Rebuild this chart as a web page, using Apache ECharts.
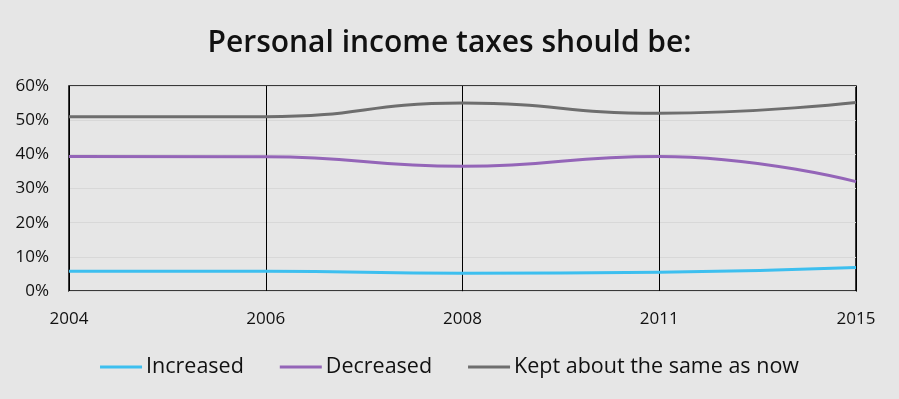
<!DOCTYPE html>
<html><head><meta charset="utf-8">
<script src="https://cdn.jsdelivr.net/npm/echarts@6/dist/echarts.min.js"></script>
<style>html,body{margin:0;padding:0;background:#e6e6e6;}#c{width:899px;height:399px;}</style>
</head><body><div id="c"></div>
<script>
const categories = ['2004','2006','2008','2011','2015'];
const increased = [5.8, 5.8, 5.2, 5.5, 6.9];
const decreased = [39.4, 39.3, 36.5, 39.4, 32.0];
const keptSame = [51.0, 51.0, 55.0, 52.0, 55.2];
const seriesNames = ['Increased','Decreased','Kept about the same as now'];
const colors = ['#3dbfef','#9465b8','#6e6e6e'];
const FONT = 'Open Sans';

const chart = echarts.init(document.getElementById('c'));
const mk = (name, data, color) => ({
  name, type:'line', data, smooth:0.5, symbol:'none',
  lineStyle:{color, width:3}, itemStyle:{color}
});
chart.setOption({
  backgroundColor:'#e6e6e6',
  animation:false,
  title:{text:'Personal income taxes should be:', left:'center', top:23,
    textStyle:{fontFamily:FONT, fontSize:30, fontWeight:600, color:'#111'}},
  legend:{bottom:16, left:'center', itemWidth:42, itemHeight:3, itemGap:36,
    icon:'rect',
    textStyle:{fontFamily:FONT, fontSize:21.5, color:'#111', padding:[0,0,0,-1]}, data:seriesNames},
  grid:{left:69, right:43, top:86, bottom:108, show:true, borderColor:'#000', borderWidth:1.5},
  xAxis:{type:'category', data:categories, boundaryGap:false,
    axisLine:{show:false}, axisTick:{show:false},
    splitLine:{show:true, lineStyle:{color:'#000', width:1}},
    axisLabel:{fontFamily:FONT, fontSize:17, color:'#111', margin:20}},
  yAxis:{type:'value', min:0, max:60, interval:10,
    axisLine:{show:false}, axisTick:{show:false},
    splitLine:{lineStyle:{color:'#d8d8d8', width:1}},
    axisLabel:{fontFamily:FONT, fontSize:17, color:'#111', formatter:'{value}%', margin:20}},
  series:[mk(seriesNames[0], increased, colors[0]), mk(seriesNames[1], decreased, colors[1]), mk(seriesNames[2], keptSame, colors[2])]
});
</script></body></html>
